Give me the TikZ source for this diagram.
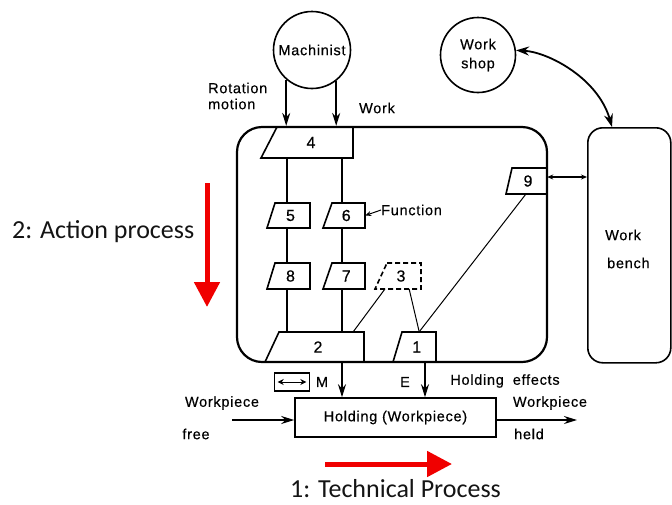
\documentclass[tikz,border=0pt]{standalone}
\usepackage{fontspec}
\setmainfont{Carlito}
\newfontfamily\dg[LetterSpace=5,FakeBold=0.4]{Liberation Sans}
\usetikzlibrary{arrows.meta}

% slanted box: [style]{name}{x top-left}{x bottom-left}{x right}{y top}{y bottom}{label}
\newcommand\trap[8][]{%
  \node[inner sep=0pt, minimum width={(#5-#4)*1pt}, minimum height={(#7-#6)*1pt}] (#2) at ({(#4+#5)/2},{(#6+#7)/2}) {};
  \draw[ln,#1] (#3,#6) -- (#5,#6) -- (#5,#7) -- (#4,#7) -- cycle;
  \node[num] at ({(#3+#4)/4+#5/2},{(#6+#7)/2}) {#8};
}

\begin{document}
\begin{tikzpicture}[x=1pt,y=-1pt,
  ln/.style={line width=1.6pt},
  thinln/.style={line width=1pt},
  arr/.style={ln,-{Stealth[length=13pt,width=8pt]}},
  lbl/.style={font=\dg\fontsize{14.5}{16}\selectfont, inner sep=0pt},
  num/.style={font=\dg\fontsize{16}{16}\selectfont, inner sep=0pt},
  bigarrow/.style={line width=5pt, draw={rgb,255:red,240;green,0;blue,0}, -{Triangle[length=25pt,width=25pt]}},
  biglbl/.style={font=\fontsize{26}{26}\selectfont, inner sep=0pt, text={rgb,255:red,20;green,20;blue,20}},
]
\useasboundingbox (0,0) rectangle (672,504);

% agents
\node[circle, draw, ln, minimum size=77pt, inner sep=0pt, lbl] (mach) at (312,50) {Machinist};
\node[circle, draw, ln, minimum size=75pt, inner sep=0pt, lbl, align=center] (ws) at (478,55) {Work\\[3pt]shop};

% action system boundary and work bench
\node[draw, line width=2.2pt, rounded corners=25pt, minimum width=310pt, minimum height=235pt] (main) at (392,244.5) {};
\node[draw, ln, rounded corners=15pt, minimum width=83pt, minimum height=235pt, anchor=north west] (bench) at (587,127) {};
\node[lbl, anchor=west] (wb1) at (605,235) {Work};
\node[lbl, anchor=west] (wb2) at (607,263) {bench};

% function carriers
\trap{b4}{277}{261}{353}{127}{158}{4}
\trap{b5}{275}{267}{310}{203}{228}{5}
\trap{b6}{332}{323}{365}{203}{228}{6}
\trap{b8}{275}{267}{310}{263}{289}{8}
\trap{b7}{332}{323}{365}{263}{289}{7}
\trap[dash pattern=on 5pt off 3pt]{b3}{387}{375}{421}{263}{289}{3}
\trap{b2}{279}{265}{364}{332}{362}{2}
\trap{b1}{402}{393}{436}{332}{362}{1}
\trap{b9}{512}{506}{547}{168}{194}{9}

\coordinate (cA) at (287,0);
\coordinate (cB) at (342,0);
\coordinate (cE) at (425,0);

% inputs from the machinist
\draw[arr] (mach.229) -- (mach.229 |- main.north);
\draw[arr] (mach.308) -- (mach.308 |- main.north);
\node[lbl, anchor=west, align=left] (rot) at (208,96) {Rotation\\[0pt]motion};
\node[lbl] (wk) at (377,108) {Work};

% internal chains
\draw[ln] (b4.south -| cA) -- (b5.north -| cA);
\draw[ln] (b5.south -| cA) -- (b8.north -| cA);
\draw[ln] (b8.south -| cA) -- (b2.north -| cA);
\draw[ln] (b4.south -| cB) -- (b6.north -| cB);
\draw[ln] (b6.south -| cB) -- (b7.north -| cB);
\draw[ln] (b7.south -| cB) -- (b2.north -| cB);
\draw[thinln] ([xshift=10pt]b3.south west) -- ([xshift=-11pt]b2.north east);
\draw[thinln] ([xshift=-12pt]b3.south east) -- ([xshift=-17pt]b1.north east);
\draw[thinln] ([xshift=20pt]b9.south west) -- ([xshift=-17pt]b1.north east);

% function label
\node[lbl, anchor=west] (fn) at (381,210) {Function};
\draw[thinln, -{Stealth[length=6pt,width=5pt]}] (fn.west) -- (b6.east);

% links to work bench and workshop
\draw[ln, {Stealth[length=6pt,width=5pt]}-{Stealth[length=6pt,width=5pt]}] ([yshift=4pt]b9.east) -- ([yshift=4pt]b9.east -| bench.west);
\draw[line width=1.8pt, {Stealth[length=13pt,width=9pt]}-{Stealth[length=13pt,width=9pt]}] (ws.7) .. controls (548,52) and (598,78) .. ([xshift=25pt]bench.north west);

% technical process
\node[draw, ln, minimum width=201pt, minimum height=39pt, lbl] (hold) at (395.5,417.5) {Holding (Workpiece)};
\draw[arr] (b2.south -| cB) -- (cB |- hold.north);
\draw[arr] (b1.south -| cE) -- (cE |- hold.north);
\node[draw, ln, minimum width=35pt, minimum height=18pt, inner sep=0pt] (mbox) at (292,382) {};
\draw[thinln, {Stealth[length=6pt,width=6pt]}-{Stealth[length=6pt,width=6pt]}] ([xshift=4pt]mbox.west) -- ([xshift=-4pt]mbox.east);
\node[lbl] (mlbl) at (322,382) {M};
\node[lbl] (elbl) at (405,382) {E};
\node[lbl] (heff) at (505,381) {Holding\hspace{9pt}effects};

\coordinate (in) at (232,420);
\coordinate (out) at (577,420);
\draw[arr] (in) -- (hold.west |- in);
\draw[arr] (hold.east |- out) -- (out);
\node[lbl] (wpin) at (222,403) {Workpiece};
\node[lbl] (free) at (196,434) {free};
\node[lbl] (wpout) at (550,403) {Workpiece};
\node[lbl] (held) at (529,434) {held};

% process direction markers
\coordinate (h0) at (325,464);
\coordinate (h1) at (452,464);
\draw[bigarrow] (h0) -- (h1);
\node[biglbl, anchor=base west] (tp) at (290,497) {1: Technical Process};
\coordinate (v0) at (207,183);
\coordinate (v1) at (207,307);
\draw[bigarrow] (v0) -- (v1);
\node[biglbl, anchor=base west] (ap) at (12,238) {2: Action process};
\end{tikzpicture}
\end{document}
